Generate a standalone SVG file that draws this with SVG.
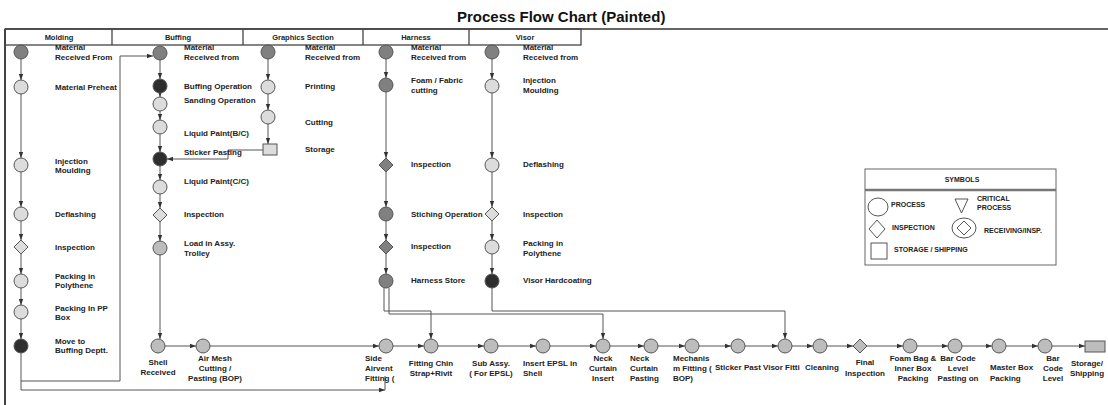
<svg xmlns="http://www.w3.org/2000/svg" width="1108" height="405" viewBox="0 0 1108 405">
<style>
text{font-family:"Liberation Sans",Arial,sans-serif;font-weight:bold;fill:#222;font-size:8px}
.t{font-size:15px;fill:#111}
.h{font-size:7.5px;text-anchor:middle}
.c{text-anchor:middle}
.n{stroke:#555;stroke-width:1}
.dk{fill:#2e2e2e}
.md{fill:#808080}
.lt{fill:#dcdcdc}
.bt{fill:#bdbdbd}
.cn{fill:none;stroke:#555;stroke-width:1}
.frame{fill:none;stroke:#444;stroke-width:1.3}
.sym{font-size:7px}
</style>
<defs>
<marker id="a" markerUnits="userSpaceOnUse" markerWidth="6" markerHeight="6" viewBox="0 0 6 6" refX="6" refY="3" orient="auto"><path d="M0,0.8 L6,3 L0,5.2 Z" fill="#333"/></marker>
</defs>

<text class="t" x="457" y="22">Process Flow Chart (Painted)</text>

<g id="frame">
<line x1="5" y1="29" x2="1108" y2="29" stroke="#333" stroke-width="1.5"/>
<line x1="5" y1="29" x2="5" y2="405" stroke="#444" stroke-width="2"/>
<rect x="5" y="29" width="576" height="16" class="frame"/>
<line x1="112" y1="29" x2="112" y2="45" class="frame"/>
<line x1="243" y1="29" x2="243" y2="45" class="frame"/>
<line x1="363" y1="29" x2="363" y2="45" class="frame"/>
<line x1="469" y1="29" x2="469" y2="45" class="frame"/>
<text class="h" x="59" y="40">Molding</text>
<text class="h" x="178" y="40">Buffing</text>
<text class="h" x="303" y="40">Graphics Section</text>
<text class="h" x="416" y="40">Harness</text>
<text class="h" x="525" y="40">Visor</text>
</g>

<g id="connectors">
<!-- Molding -->
<line x1="21" y1="59" x2="21" y2="80" class="cn" marker-end="url(#a)"/>
<line x1="21" y1="94" x2="21" y2="158" class="cn" marker-end="url(#a)"/>
<line x1="21" y1="172" x2="21" y2="207" class="cn" marker-end="url(#a)"/>
<line x1="21" y1="221" x2="21" y2="240" class="cn" marker-end="url(#a)"/>
<line x1="21" y1="254" x2="21" y2="274" class="cn" marker-end="url(#a)"/>
<line x1="21" y1="288" x2="21" y2="305" class="cn" marker-end="url(#a)"/>
<line x1="21" y1="319" x2="21" y2="339" class="cn" marker-end="url(#a)"/>
<line x1="21" y1="353" x2="21" y2="390" class="cn"/>
<path d="M21,381 H120 V56 H153" class="cn" marker-end="url(#a)"/>
<path d="M21,390 H385" class="cn" marker-end="url(#a)"/>
<line x1="385" y1="376" x2="385" y2="390" class="cn"/>
<!-- Buffing -->
<line x1="160" y1="60" x2="160" y2="79" class="cn" marker-end="url(#a)"/>
<line x1="160" y1="93" x2="160" y2="97" class="cn" marker-end="url(#a)"/>
<line x1="160" y1="111" x2="160" y2="120" class="cn" marker-end="url(#a)"/>
<line x1="160" y1="134" x2="160" y2="152" class="cn" marker-end="url(#a)"/>
<line x1="160" y1="166" x2="160" y2="180" class="cn" marker-end="url(#a)"/>
<line x1="160" y1="194" x2="160" y2="208" class="cn" marker-end="url(#a)"/>
<line x1="160" y1="222" x2="160" y2="241" class="cn" marker-end="url(#a)"/>
<line x1="160" y1="255" x2="160" y2="339" class="cn" marker-end="url(#a)"/>
<!-- Graphics -->
<line x1="268" y1="59" x2="268" y2="80" class="cn" marker-end="url(#a)"/>
<line x1="268" y1="94" x2="268" y2="110" class="cn" marker-end="url(#a)"/>
<line x1="268" y1="124" x2="268" y2="144" class="cn" marker-end="url(#a)"/>
<path d="M263,150 H228 V159 H167" class="cn" marker-end="url(#a)"/>
<!-- Harness -->
<line x1="386" y1="59" x2="386" y2="78" class="cn" marker-end="url(#a)"/>
<line x1="386" y1="92" x2="386" y2="158" class="cn" marker-end="url(#a)"/>
<line x1="386" y1="172" x2="386" y2="207" class="cn" marker-end="url(#a)"/>
<line x1="386" y1="221" x2="386" y2="240" class="cn" marker-end="url(#a)"/>
<line x1="386" y1="254" x2="386" y2="274" class="cn" marker-end="url(#a)"/>
<path d="M384,288 V311 H431 V339" class="cn" marker-end="url(#a)"/>
<path d="M389,288 V314 H603 V339" class="cn" marker-end="url(#a)"/>
<!-- Visor -->
<line x1="492" y1="59" x2="492" y2="79" class="cn" marker-end="url(#a)"/>
<line x1="492" y1="93" x2="492" y2="158" class="cn" marker-end="url(#a)"/>
<line x1="492" y1="172" x2="492" y2="207" class="cn" marker-end="url(#a)"/>
<line x1="492" y1="221" x2="492" y2="240" class="cn" marker-end="url(#a)"/>
<line x1="492" y1="254" x2="492" y2="274" class="cn" marker-end="url(#a)"/>
<path d="M492,288 V311 H785 V339" class="cn" marker-end="url(#a)"/>
<!-- Bottom row -->
<line x1="165" y1="346" x2="196" y2="346" class="cn" marker-end="url(#a)"/>
<line x1="210" y1="346" x2="379" y2="346" class="cn" marker-end="url(#a)"/>
<line x1="393" y1="346" x2="424" y2="346" class="cn" marker-end="url(#a)"/>
<line x1="438" y1="346" x2="484" y2="346" class="cn" marker-end="url(#a)"/>
<line x1="498" y1="346" x2="536" y2="346" class="cn" marker-end="url(#a)"/>
<line x1="550" y1="346" x2="596" y2="346" class="cn" marker-end="url(#a)"/>
<line x1="610" y1="346" x2="644" y2="346" class="cn" marker-end="url(#a)"/>
<line x1="658" y1="346" x2="685" y2="346" class="cn" marker-end="url(#a)"/>
<line x1="699" y1="346" x2="731" y2="346" class="cn" marker-end="url(#a)"/>
<line x1="745" y1="346" x2="778" y2="346" class="cn" marker-end="url(#a)"/>
<line x1="792" y1="346" x2="813" y2="346" class="cn" marker-end="url(#a)"/>
<line x1="827" y1="346" x2="853" y2="346" class="cn" marker-end="url(#a)"/>
<line x1="867" y1="346" x2="903" y2="346" class="cn" marker-end="url(#a)"/>
<line x1="917" y1="346" x2="948" y2="346" class="cn" marker-end="url(#a)"/>
<line x1="962" y1="346" x2="992" y2="346" class="cn" marker-end="url(#a)"/>
<line x1="1006" y1="346" x2="1038" y2="346" class="cn" marker-end="url(#a)"/>
<line x1="1052" y1="346" x2="1085" y2="346" class="cn" marker-end="url(#a)"/>
</g>

<!-- Molding nodes -->
<g id="m1"><circle cx="21" cy="52" r="7" class="n md"/><text x="55" y="50">Material</text><text x="55" y="60">Received From</text></g>
<g id="m2"><circle cx="21" cy="87" r="7" class="n lt"/><text x="55" y="90">Material Preheat</text></g>
<g id="m3"><circle cx="21" cy="165" r="7" class="n lt"/><text x="55" y="164">Injection</text><text x="55" y="173">Moulding</text></g>
<g id="m4"><circle cx="21" cy="214" r="7" class="n lt"/><text x="55" y="217">Deflashing</text></g>
<g id="m5"><path d="M21,240 L28,247 L21,254 L14,247 Z" class="n lt"/><text x="55" y="250">Inspection</text></g>
<g id="m6"><circle cx="21" cy="281" r="7" class="n lt"/><text x="55" y="279">Packing in</text><text x="55" y="288">Polythene</text></g>
<g id="m7"><circle cx="21" cy="312" r="7" class="n lt"/><text x="55" y="311">Packing In PP</text><text x="55" y="320">Box</text></g>
<g id="m8"><circle cx="21" cy="346" r="7" class="n dk"/><text x="55" y="344">Move to</text><text x="55" y="353">Buffing Deptt.</text></g>

<!-- Buffing nodes -->
<g id="b1"><circle cx="160" cy="53" r="7" class="n md"/><text x="184" y="50">Material</text><text x="184" y="60">Received from</text></g>
<g id="b2"><circle cx="160" cy="86" r="7" class="n dk"/><text x="184" y="89">Buffing Operation</text></g>
<g id="b3"><circle cx="160" cy="104" r="7" class="n lt"/><text x="184" y="103">Sanding Operation</text></g>
<g id="b4"><circle cx="160" cy="127" r="7" class="n lt"/><text x="184" y="136">Liquid Paint(B/C)</text></g>
<g id="b5"><circle cx="160" cy="159" r="7" class="n dk"/><text x="184" y="155">Sticker Pasting</text></g>
<g id="b6"><circle cx="160" cy="187" r="7" class="n lt"/><text x="184" y="184">Liquid Paint(C/C)</text></g>
<g id="b7"><path d="M160,208 L167,215 L160,222 L153,215 Z" class="n lt"/><text x="184" y="217">Inspection</text></g>
<g id="b8"><circle cx="160" cy="248" r="7" class="n bt"/><text x="184" y="246">Load in Assy.</text><text x="184" y="256">Trolley</text></g>

<!-- Graphics nodes -->
<g id="g1"><circle cx="268" cy="52" r="7" class="n md"/><text x="305" y="50">Material</text><text x="305" y="60">Received from</text></g>
<g id="g2"><circle cx="268" cy="87" r="7" class="n lt"/><text x="305" y="89">Printing</text></g>
<g id="g3"><circle cx="268" cy="117" r="7" class="n lt"/><text x="305" y="125">Cutting</text></g>
<g id="g4"><rect x="263" y="144" width="14" height="11" class="n lt"/><text x="305" y="152">Storage</text></g>

<!-- Harness nodes -->
<g id="h1"><circle cx="386" cy="52" r="7" class="n md"/><text x="411" y="50">Material</text><text x="411" y="60">Received from</text></g>
<g id="h2"><circle cx="386" cy="85" r="7" class="n md"/><text x="411" y="83">Foam / Fabric</text><text x="411" y="93">cutting</text></g>
<g id="h3"><path d="M386,158 L393,165 L386,172 L379,165 Z" class="n md"/><text x="411" y="167">Inspection</text></g>
<g id="h4"><circle cx="386" cy="214" r="7" class="n md"/><text x="411" y="217">Stiching Operation</text></g>
<g id="h5"><path d="M386,240 L393,247 L386,254 L379,247 Z" class="n md"/><text x="411" y="249">Inspection</text></g>
<g id="h6"><circle cx="386" cy="281" r="7" class="n md"/><text x="411" y="283">Harness Store</text></g>

<!-- Visor nodes -->
<g id="v1"><circle cx="492" cy="52" r="7" class="n md"/><text x="523" y="50">Material</text><text x="523" y="60">Received from</text></g>
<g id="v2"><circle cx="492" cy="86" r="7" class="n lt"/><text x="523" y="83">Injection</text><text x="523" y="93">Moulding</text></g>
<g id="v3"><circle cx="492" cy="165" r="7" class="n lt"/><text x="523" y="167">Deflashing</text></g>
<g id="v4"><path d="M492,207 L499,214 L492,221 L485,214 Z" class="n lt"/><text x="523" y="217">Inspection</text></g>
<g id="v5"><circle cx="492" cy="247" r="7" class="n lt"/><text x="523" y="246">Packing in</text><text x="523" y="256">Polythene</text></g>
<g id="v6"><circle cx="492" cy="281" r="7" class="n dk"/><text x="523" y="283">Visor Hardcoating</text></g>

<!-- Bottom row -->
<g id="p1"><circle cx="158" cy="346" r="7" class="n bt"/><text class="c" x="158" y="365">Shell</text><text class="c" x="158" y="375">Received</text></g>
<g id="p2"><circle cx="203" cy="346" r="7" class="n bt"/><text class="c" x="215" y="361">Air Mesh</text><text class="c" x="215" y="371">Cutting /</text><text class="c" x="215" y="381">Pasting (BOP)</text></g>
<g id="p3"><circle cx="386" cy="346" r="7" class="n bt"/><text x="365" y="361">Side</text><text x="365" y="371">Airvent</text><text x="365" y="381">Fitting (</text></g>
<g id="p4"><circle cx="431" cy="346" r="7" class="n bt"/><text class="c" x="431" y="366">Fitting Chin</text><text class="c" x="431" y="376">Strap+Rivit</text></g>
<g id="p5"><circle cx="491" cy="346" r="7" class="n bt"/><text class="c" x="491" y="366">Sub Assy.</text><text class="c" x="491" y="376">( For EPSL)</text></g>
<g id="p6"><circle cx="543" cy="346" r="7" class="n bt"/><text x="523" y="366">Insert EPSL in</text><text x="523" y="376">Shell</text></g>
<g id="p7"><circle cx="603" cy="346" r="7" class="n bt"/><text class="c" x="603" y="361">Neck</text><text class="c" x="603" y="371">Curtain</text><text class="c" x="603" y="381">Insert</text></g>
<g id="p8"><circle cx="651" cy="346" r="7" class="n bt"/><text x="630" y="361">Neck</text><text x="630" y="371">Curtain</text><text x="630" y="381">Pasting</text></g>
<g id="p9"><circle cx="692" cy="346" r="7" class="n bt"/><text x="673" y="361">Mechanis</text><text x="673" y="371">m Fitting (</text><text x="673" y="381">BOP)</text></g>
<g id="p10"><circle cx="738" cy="346" r="7" class="n bt"/><text x="715" y="370">Sticker Past</text></g>
<g id="p11"><circle cx="785" cy="346" r="7" class="n bt"/><text x="763" y="370">Visor Fitti</text></g>
<g id="p12"><circle cx="820" cy="346" r="7" class="n bt"/><text x="805" y="370">Cleaning</text></g>
<g id="p13"><path d="M860,339 L867,346 L860,353 L853,346 Z" class="n bt"/><text class="c" x="865" y="365">Final</text><text class="c" x="865" y="376">Inspection</text></g>
<g id="p14"><circle cx="910" cy="346" r="7" class="n bt"/><text class="c" x="913" y="361">Foam Bag &amp;</text><text class="c" x="913" y="371">Inner Box</text><text class="c" x="913" y="381">Packing</text></g>
<g id="p15"><circle cx="955" cy="346" r="7" class="n bt"/><text class="c" x="958" y="361">Bar Code</text><text class="c" x="958" y="371">Level</text><text class="c" x="958" y="381">Pasting on</text></g>
<g id="p16"><circle cx="999" cy="346" r="7" class="n bt"/><text x="990" y="370">Master  Box</text><text x="990" y="381">Packing</text></g>
<g id="p17"><circle cx="1045" cy="346" r="7" class="n bt"/><text class="c" x="1053" y="361">Bar</text><text class="c" x="1053" y="371">Code</text><text class="c" x="1053" y="381">Level</text></g>
<g id="p18"><rect x="1085" y="341" width="20" height="11" class="n bt"/><text class="c" x="1087" y="366">Storage/</text><text class="c" x="1087" y="376">Shipping</text></g>

<!-- Legend -->
<g id="legend">
<rect x="865" y="169" width="191" height="96" fill="#fff" stroke="#666" stroke-width="1"/>
<line x1="865" y1="190" x2="1056" y2="190" stroke="#777" stroke-width="2.5"/>
<text class="sym c" x="962" y="182">SYMBOLS</text>
<ellipse cx="878" cy="207" rx="10" ry="9" fill="#fff" stroke="#555"/>
<text class="sym" x="891" y="207">PROCESS</text>
<path d="M955,199 L968,199 L961.5,213 Z" fill="#fff" stroke="#555"/>
<text class="sym" x="977" y="201">CRITICAL</text>
<text class="sym" x="977" y="210">PROCESS</text>
<path d="M877,220 L885,229 L877,238 L869,229 Z" fill="#fff" stroke="#555"/>
<text class="sym" x="892" y="230">INSPECTION</text>
<ellipse cx="964" cy="228" rx="12" ry="10" fill="#fff" stroke="#555"/>
<path d="M964,221 L971,228 L964,235 L957,228 Z" fill="#fff" stroke="#555"/>
<text class="sym" x="984" y="233">RECEIVING/INSP.</text>
<rect x="871" y="243" width="16" height="16" fill="#fff" stroke="#555"/>
<text class="sym" x="894" y="252">STORAGE / SHIPPING</text>
</g>
</svg>
